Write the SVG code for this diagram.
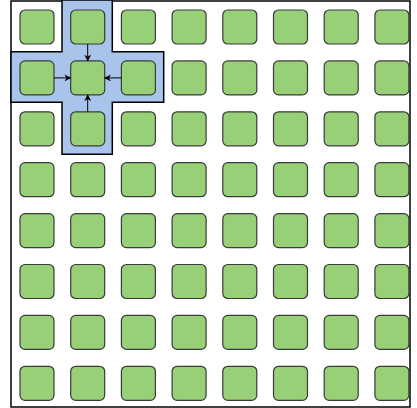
<svg xmlns="http://www.w3.org/2000/svg" width="417" height="408" viewBox="0 0 417 408">
<style>
.n{fill:#97d077;stroke:#3a3a3a;stroke-width:1.2}
.c{stroke:#000;stroke-width:1;fill:none;marker-end:url(#ah)}
</style>
<defs>
<marker id="ah" viewBox="0 0 10 10" refX="9" refY="5" markerWidth="7" markerHeight="7" markerUnits="userSpaceOnUse" orient="auto">
<path d="M0,0 L10,5 L0,10 L3,5 Z" fill="#000"/>
</marker>
<rect id="b" width="34" height="34" rx="5" class="n"/>
</defs>
<rect x="11" y="1" width="399" height="406" fill="#fff" stroke="#000" stroke-width="1.5"/>
<path id="cross" d="M62,0 H112.3 V51.7 H163.7 V102.3 H112.3 V154.3 H62 V102.3 H11 V51.7 H62 Z" fill="#a9c4eb" stroke="#000" stroke-width="1.5"/>
<g id="nodes">
<g id="r0"><use href="#b" x="20" y="10"/><use href="#b" x="70.7" y="10"/><use href="#b" x="121.4" y="10"/><use href="#b" x="172.1" y="10"/><use href="#b" x="222.8" y="10"/><use href="#b" x="273.5" y="10"/><use href="#b" x="324.2" y="10"/><use href="#b" x="374.9" y="10"/></g>
<g id="r1"><use href="#b" x="20" y="60.9"/><use href="#b" x="70.7" y="60.9"/><use href="#b" x="121.4" y="60.9"/><use href="#b" x="172.1" y="60.9"/><use href="#b" x="222.8" y="60.9"/><use href="#b" x="273.5" y="60.9"/><use href="#b" x="324.2" y="60.9"/><use href="#b" x="374.9" y="60.9"/></g>
<g id="r2"><use href="#b" x="20" y="111.8"/><use href="#b" x="70.7" y="111.8"/><use href="#b" x="121.4" y="111.8"/><use href="#b" x="172.1" y="111.8"/><use href="#b" x="222.8" y="111.8"/><use href="#b" x="273.5" y="111.8"/><use href="#b" x="324.2" y="111.8"/><use href="#b" x="374.9" y="111.8"/></g>
<g id="r3"><use href="#b" x="20" y="162.7"/><use href="#b" x="70.7" y="162.7"/><use href="#b" x="121.4" y="162.7"/><use href="#b" x="172.1" y="162.7"/><use href="#b" x="222.8" y="162.7"/><use href="#b" x="273.5" y="162.7"/><use href="#b" x="324.2" y="162.7"/><use href="#b" x="374.9" y="162.7"/></g>
<g id="r4"><use href="#b" x="20" y="213.6"/><use href="#b" x="70.7" y="213.6"/><use href="#b" x="121.4" y="213.6"/><use href="#b" x="172.1" y="213.6"/><use href="#b" x="222.8" y="213.6"/><use href="#b" x="273.5" y="213.6"/><use href="#b" x="324.2" y="213.6"/><use href="#b" x="374.9" y="213.6"/></g>
<g id="r5"><use href="#b" x="20" y="264.5"/><use href="#b" x="70.7" y="264.5"/><use href="#b" x="121.4" y="264.5"/><use href="#b" x="172.1" y="264.5"/><use href="#b" x="222.8" y="264.5"/><use href="#b" x="273.5" y="264.5"/><use href="#b" x="324.2" y="264.5"/><use href="#b" x="374.9" y="264.5"/></g>
<g id="r6"><use href="#b" x="20" y="315.4"/><use href="#b" x="70.7" y="315.4"/><use href="#b" x="121.4" y="315.4"/><use href="#b" x="172.1" y="315.4"/><use href="#b" x="222.8" y="315.4"/><use href="#b" x="273.5" y="315.4"/><use href="#b" x="324.2" y="315.4"/><use href="#b" x="374.9" y="315.4"/></g>
<g id="r7"><use href="#b" x="20" y="366.3"/><use href="#b" x="70.7" y="366.3"/><use href="#b" x="121.4" y="366.3"/><use href="#b" x="172.1" y="366.3"/><use href="#b" x="222.8" y="366.3"/><use href="#b" x="273.5" y="366.3"/><use href="#b" x="324.2" y="366.3"/><use href="#b" x="374.9" y="366.3"/></g>
</g>
<g id="connectors">
<line class="c" x1="87.7" y1="44" x2="87.7" y2="60.9"/>
<line class="c" x1="54" y1="77.9" x2="70.7" y2="77.9"/>
<line class="c" x1="121.4" y1="77.9" x2="104.7" y2="77.9"/>
<line class="c" x1="87.7" y1="111.8" x2="87.7" y2="94.9"/>
</g>
</svg>
